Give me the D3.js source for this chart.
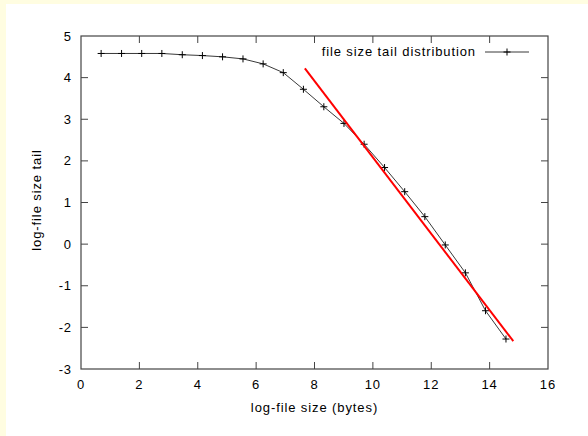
<!DOCTYPE html>
<html lang="en">
<head>
<meta charset="UTF-8">
<title>file size tail distribution</title>
<script src="https://d3js.org/d3.v7.min.js"></script>
<style>
    body { margin: 0; background: #fffde1; }
    svg { display: block; }
    text { font-family: "Liberation Sans", Arial, sans-serif; font-size: 13px; fill: #000; letter-spacing: 0.9px; }
</style>
</head>
<body>
<script>
    // log-file size (x) and log tail (y)
    var logSize = [0.69, 1.39, 2.08, 2.77, 3.47, 4.16, 4.85, 5.55, 6.24, 6.93, 7.62,
                   8.32, 9.01, 9.70, 10.40, 11.09, 11.78, 12.48, 13.17, 13.86, 14.56];
    var logTail = [4.58, 4.58, 4.58, 4.58, 4.55, 4.53, 4.50, 4.45, 4.33, 4.12, 3.72,
                   3.30, 2.90, 2.40, 1.84, 1.26, 0.66, -0.02, -0.69, -1.60, -2.28];
    // fitted straight line (red)
    var fitX = [7.67, 14.81];
    var fitY = [4.22, -2.33];

    var xTicks = [0, 2, 4, 6, 8, 10, 12, 14, 16];
    var yTicks = [-3, -2, -1, 0, 1, 2, 3, 4, 5];

    var width = 588, height = 436;
    var margin = {top: 36, right: 40, bottom: 67, left: 81};

    var svg = d3.select('body').append('svg')
        .attr('width', width)
        .attr('height', height);

    // white page with yellow strip on top and left
    svg.append('rect')
        .attr('x', 6).attr('y', 4)
        .attr('width', width - 6).attr('height', height - 4)
        .attr('fill', '#fff');

    var x = d3.scaleLinear().domain([0, 16]).range([margin.left, width - margin.right]);
    var y = d3.scaleLinear().domain([-3, 5]).range([height - margin.bottom, margin.top]);

    var axisColor = '#444';
    var tickLen = 7;

    var g = svg.append('g');

    // ticks, mirrored on all four sides
    xTicks.forEach(function (t) {
        if (t === 0 || t === 16) return;
        g.append('line').attr('x1', x(t)).attr('x2', x(t))
            .attr('y1', y(-3)).attr('y2', y(-3) - tickLen).attr('stroke', axisColor);
        g.append('line').attr('x1', x(t)).attr('x2', x(t))
            .attr('y1', y(5)).attr('y2', y(5) + tickLen).attr('stroke', axisColor);
    });
    yTicks.forEach(function (t) {
        if (t === -3 || t === 5) return;
        g.append('line').attr('y1', y(t)).attr('y2', y(t))
            .attr('x1', x(0)).attr('x2', x(0) + tickLen).attr('stroke', axisColor);
        g.append('line').attr('y1', y(t)).attr('y2', y(t))
            .attr('x1', x(16)).attr('x2', x(16) - tickLen).attr('stroke', axisColor);
    });

    // frame
    g.append('rect')
        .attr('x', x(0)).attr('y', y(5))
        .attr('width', x(16) - x(0)).attr('height', y(-3) - y(5))
        .attr('fill', 'none').attr('stroke', axisColor).attr('stroke-width', 1.2);

    // tick labels
    g.selectAll('.xl').data(xTicks).enter().append('text')
        .attr('x', function (d) { return x(d); })
        .attr('y', y(-3) + 20)
        .attr('text-anchor', 'middle')
        .text(function (d) { return d; });
    g.selectAll('.yl').data(yTicks).enter().append('text')
        .attr('x', x(0) - 9)
        .attr('y', function (d) { return y(d) + 4.5; })
        .attr('text-anchor', 'end')
        .text(function (d) { return d; });

    // axis titles
    svg.append('text')
        .attr('x', (x(0) + x(16)) / 2).attr('y', 412)
        .attr('text-anchor', 'middle')
        .text('log-file size (bytes)');
    svg.append('text')
        .attr('transform', 'translate(41,' + 200 + ') rotate(-90)')
        .attr('text-anchor', 'middle')
        .text('log-file size tail');

    // data line
    var pts = logSize.map(function (d, i) { return [d, logTail[i]]; });
    var line = d3.line()
        .x(function (d) { return x(d[0]); })
        .y(function (d) { return y(d[1]); });

    svg.append('path')
        .datum(pts)
        .attr('d', line)
        .attr('fill', 'none')
        .attr('stroke', '#222')
        .attr('stroke-width', 0.9);

    var cs = 3.5;
    svg.selectAll('.pt').data(pts).enter().append('path')
        .attr('d', function (d) {
            var cx = x(d[0]), cy = y(d[1]);
            return 'M' + (cx - cs) + ',' + cy + 'H' + (cx + cs) +
                   'M' + cx + ',' + (cy - cs) + 'V' + (cy + cs);
        })
        .attr('stroke', '#000')
        .attr('stroke-width', 1);

    // red fit
    svg.append('line')
        .attr('x1', x(fitX[0])).attr('y1', y(fitY[0]))
        .attr('x2', x(fitX[1])).attr('y2', y(fitY[1]))
        .attr('stroke', '#f00')
        .attr('stroke-width', 2);

    // legend
    svg.append('text')
        .attr('x', 476).attr('y', 56)
        .attr('text-anchor', 'end')
        .text('file size tail distribution');
    svg.append('line')
        .attr('x1', 485).attr('x2', 529).attr('y1', 52).attr('y2', 52)
        .attr('stroke', '#222').attr('stroke-width', 0.9);
    svg.append('path')
        .attr('d', 'M' + (507 - cs) + ',52H' + (507 + cs) + 'M507,' + (52 - cs) + 'V' + (52 + cs))
        .attr('stroke', '#000');
</script>
</body>
</html>
